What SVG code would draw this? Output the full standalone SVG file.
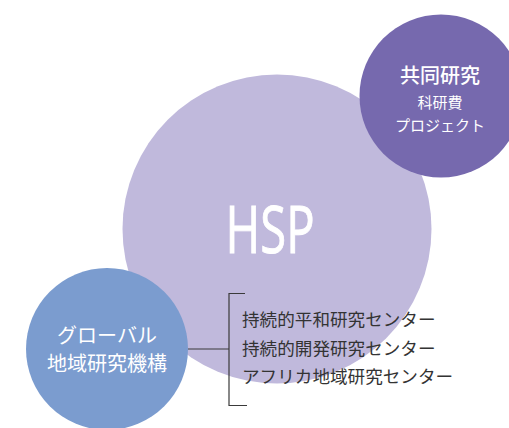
<svg xmlns="http://www.w3.org/2000/svg" width="509" height="428" viewBox="0 0 509 428">
<style>
.jp{font-family:"Noto Sans CJK JP","Noto Sans",sans-serif;}
.w{fill:#ffffff;text-anchor:middle;}
.d{fill:#333333;font-size:17.6px;}
.ln{stroke:#3a3a3a;stroke-width:1.2;fill:none;}
</style>
<g id="hsp">
<circle cx="277" cy="229" r="154.5" fill="#c0b9dc"/>
<text x="270" y="253" class="w" font-family="Open Sans, Noto Sans, sans-serif" font-size="65" stroke="#ffffff" stroke-width="0.9" textLength="89" lengthAdjust="spacingAndGlyphs">HSP</text>
</g>
<g id="kyodo">
<circle cx="441" cy="96" r="81.5" fill="#7669ae"/>
<text x="440" y="83" class="jp w" font-size="20" font-weight="500">共同研究</text>
<text x="440" y="108" class="jp w" font-size="15">科研費</text>
<text x="440" y="131" class="jp w" font-size="15">プロジェクト</text>
</g>
<g id="connectors">
<path class="ln" d="M188 349H229M245 293.5H229V405.5H247"/>
</g>
<g id="global">
<circle cx="107" cy="349" r="81" fill="#7b9ccf"/>
<text x="107" y="343" class="jp w" font-size="20">グローバル</text>
<text x="107" y="371" class="jp w" font-size="20">地域研究機構</text>
</g>
<g id="centers">
<text x="242" y="326" class="jp d">持続的平和研究センター</text>
<text x="242" y="355" class="jp d">持続的開発研究センター</text>
<text x="242" y="383" class="jp d">アフリカ地域研究センター</text>
</g>
</svg>
